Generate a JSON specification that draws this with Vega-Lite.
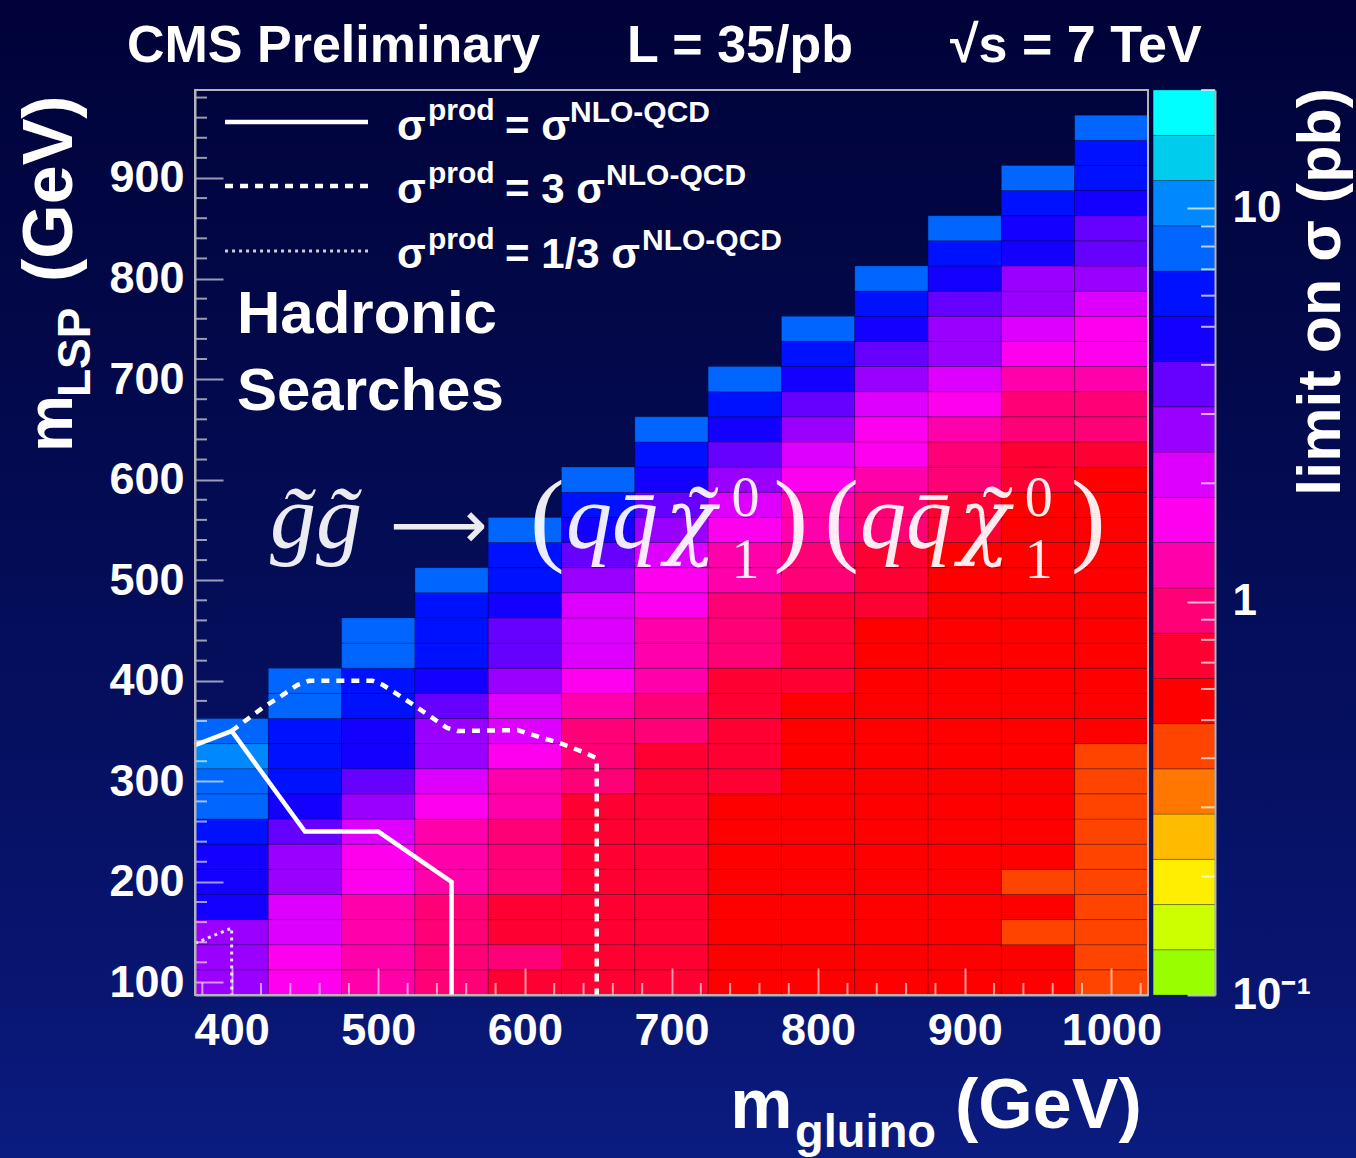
{
  "$schema": "https://vega.github.io/schema/vega-lite/v6.json",
  "autosize": {"type": "none"},
  "width": 953,
  "height": 905,
  "padding": {"left": 195, "top": 90, "right": 208, "bottom": 163},
  "background": "#030a50",
  "config": {"view": {"stroke": null}},
  "datasets": {
    "limits": [
      {"gluino":400,"lsp":100,"limit":2.74},{"gluino":400,"lsp":125,"limit":2.74},{"gluino":400,"lsp":150,"limit":2.74},{"gluino":400,"lsp":175,"limit":4.66},{"gluino":400,"lsp":200,"limit":4.66},{"gluino":400,"lsp":225,"limit":4.66},{"gluino":400,"lsp":250,"limit":6.07},{"gluino":400,"lsp":275,"limit":7.91},{"gluino":400,"lsp":300,"limit":7.91},{"gluino":400,"lsp":325,"limit":10.3},{"gluino":400,"lsp":350,"limit":7.91},
      {"gluino":450,"lsp":100,"limit":1.61},{"gluino":450,"lsp":125,"limit":1.61},{"gluino":450,"lsp":150,"limit":2.1},{"gluino":450,"lsp":175,"limit":2.1},{"gluino":450,"lsp":200,"limit":2.74},{"gluino":450,"lsp":225,"limit":2.74},{"gluino":450,"lsp":250,"limit":3.58},{"gluino":450,"lsp":275,"limit":4.66},{"gluino":450,"lsp":300,"limit":6.07},{"gluino":450,"lsp":325,"limit":6.07},{"gluino":450,"lsp":350,"limit":6.07},{"gluino":450,"lsp":375,"limit":7.91},{"gluino":450,"lsp":400,"limit":7.91},
      {"gluino":500,"lsp":100,"limit":1.24},{"gluino":500,"lsp":125,"limit":1.24},{"gluino":500,"lsp":150,"limit":1.24},{"gluino":500,"lsp":175,"limit":1.24},{"gluino":500,"lsp":200,"limit":1.61},{"gluino":500,"lsp":225,"limit":1.61},{"gluino":500,"lsp":250,"limit":2.1},{"gluino":500,"lsp":275,"limit":2.74},{"gluino":500,"lsp":300,"limit":3.58},{"gluino":500,"lsp":325,"limit":4.66},{"gluino":500,"lsp":350,"limit":4.66},{"gluino":500,"lsp":375,"limit":6.07},{"gluino":500,"lsp":400,"limit":6.07},{"gluino":500,"lsp":425,"limit":7.91},{"gluino":500,"lsp":450,"limit":7.91},
      {"gluino":550,"lsp":100,"limit":0.95},{"gluino":550,"lsp":125,"limit":0.95},{"gluino":550,"lsp":150,"limit":0.95},{"gluino":550,"lsp":175,"limit":0.95},{"gluino":550,"lsp":200,"limit":1.24},{"gluino":550,"lsp":225,"limit":1.24},{"gluino":550,"lsp":250,"limit":1.24},{"gluino":550,"lsp":275,"limit":1.61},{"gluino":550,"lsp":300,"limit":2.1},{"gluino":550,"lsp":325,"limit":2.74},{"gluino":550,"lsp":350,"limit":2.74},{"gluino":550,"lsp":375,"limit":3.58},{"gluino":550,"lsp":400,"limit":4.66},{"gluino":550,"lsp":425,"limit":6.07},{"gluino":550,"lsp":450,"limit":6.07},{"gluino":550,"lsp":475,"limit":6.07},{"gluino":550,"lsp":500,"limit":7.91},
      {"gluino":600,"lsp":100,"limit":0.73},{"gluino":600,"lsp":125,"limit":0.95},{"gluino":600,"lsp":150,"limit":0.73},{"gluino":600,"lsp":175,"limit":0.73},{"gluino":600,"lsp":200,"limit":0.95},{"gluino":600,"lsp":225,"limit":0.95},{"gluino":600,"lsp":250,"limit":0.95},{"gluino":600,"lsp":275,"limit":1.24},{"gluino":600,"lsp":300,"limit":1.24},{"gluino":600,"lsp":325,"limit":1.61},{"gluino":600,"lsp":350,"limit":2.1},{"gluino":600,"lsp":375,"limit":2.1},{"gluino":600,"lsp":400,"limit":2.74},{"gluino":600,"lsp":425,"limit":3.58},{"gluino":600,"lsp":450,"limit":3.58},{"gluino":600,"lsp":475,"limit":4.66},{"gluino":600,"lsp":500,"limit":6.07},{"gluino":600,"lsp":525,"limit":6.07},{"gluino":600,"lsp":550,"limit":7.91},
      {"gluino":650,"lsp":100,"limit":0.73},{"gluino":650,"lsp":125,"limit":0.73},{"gluino":650,"lsp":150,"limit":0.73},{"gluino":650,"lsp":175,"limit":0.73},{"gluino":650,"lsp":200,"limit":0.73},{"gluino":650,"lsp":225,"limit":0.73},{"gluino":650,"lsp":250,"limit":0.73},{"gluino":650,"lsp":275,"limit":0.73},{"gluino":650,"lsp":300,"limit":0.95},{"gluino":650,"lsp":325,"limit":0.95},{"gluino":650,"lsp":350,"limit":0.95},{"gluino":650,"lsp":375,"limit":1.24},{"gluino":650,"lsp":400,"limit":1.61},{"gluino":650,"lsp":425,"limit":2.1},{"gluino":650,"lsp":450,"limit":2.1},{"gluino":650,"lsp":475,"limit":2.1},{"gluino":650,"lsp":500,"limit":2.74},{"gluino":650,"lsp":525,"limit":3.58},{"gluino":650,"lsp":550,"limit":4.66},{"gluino":650,"lsp":575,"limit":6.07},{"gluino":650,"lsp":600,"limit":7.91},
      {"gluino":700,"lsp":100,"limit":0.73},{"gluino":700,"lsp":125,"limit":0.73},{"gluino":700,"lsp":150,"limit":0.73},{"gluino":700,"lsp":175,"limit":0.73},{"gluino":700,"lsp":200,"limit":0.73},{"gluino":700,"lsp":225,"limit":0.73},{"gluino":700,"lsp":250,"limit":0.73},{"gluino":700,"lsp":275,"limit":0.73},{"gluino":700,"lsp":300,"limit":0.73},{"gluino":700,"lsp":325,"limit":0.73},{"gluino":700,"lsp":350,"limit":0.95},{"gluino":700,"lsp":375,"limit":0.95},{"gluino":700,"lsp":400,"limit":1.24},{"gluino":700,"lsp":425,"limit":1.24},{"gluino":700,"lsp":450,"limit":1.24},{"gluino":700,"lsp":475,"limit":1.61},{"gluino":700,"lsp":500,"limit":1.61},{"gluino":700,"lsp":525,"limit":2.1},{"gluino":700,"lsp":550,"limit":2.74},{"gluino":700,"lsp":575,"limit":3.58},{"gluino":700,"lsp":600,"limit":4.66},{"gluino":700,"lsp":625,"limit":6.07},{"gluino":700,"lsp":650,"limit":7.91},
      {"gluino":750,"lsp":100,"limit":0.56},{"gluino":750,"lsp":125,"limit":0.56},{"gluino":750,"lsp":150,"limit":0.56},{"gluino":750,"lsp":175,"limit":0.56},{"gluino":750,"lsp":200,"limit":0.56},{"gluino":750,"lsp":225,"limit":0.56},{"gluino":750,"lsp":250,"limit":0.56},{"gluino":750,"lsp":275,"limit":0.56},{"gluino":750,"lsp":300,"limit":0.73},{"gluino":750,"lsp":325,"limit":0.73},{"gluino":750,"lsp":350,"limit":0.73},{"gluino":750,"lsp":375,"limit":0.73},{"gluino":750,"lsp":400,"limit":0.73},{"gluino":750,"lsp":425,"limit":0.95},{"gluino":750,"lsp":450,"limit":0.95},{"gluino":750,"lsp":475,"limit":0.95},{"gluino":750,"lsp":500,"limit":1.24},{"gluino":750,"lsp":525,"limit":1.24},{"gluino":750,"lsp":550,"limit":1.61},{"gluino":750,"lsp":575,"limit":2.1},{"gluino":750,"lsp":600,"limit":2.74},{"gluino":750,"lsp":625,"limit":3.58},{"gluino":750,"lsp":650,"limit":4.66},{"gluino":750,"lsp":675,"limit":6.07},{"gluino":750,"lsp":700,"limit":7.91},
      {"gluino":800,"lsp":100,"limit":0.56},{"gluino":800,"lsp":125,"limit":0.56},{"gluino":800,"lsp":150,"limit":0.56},{"gluino":800,"lsp":175,"limit":0.56},{"gluino":800,"lsp":200,"limit":0.56},{"gluino":800,"lsp":225,"limit":0.56},{"gluino":800,"lsp":250,"limit":0.56},{"gluino":800,"lsp":275,"limit":0.56},{"gluino":800,"lsp":300,"limit":0.56},{"gluino":800,"lsp":325,"limit":0.56},{"gluino":800,"lsp":350,"limit":0.56},{"gluino":800,"lsp":375,"limit":0.56},{"gluino":800,"lsp":400,"limit":0.73},{"gluino":800,"lsp":425,"limit":0.73},{"gluino":800,"lsp":450,"limit":0.73},{"gluino":800,"lsp":475,"limit":0.73},{"gluino":800,"lsp":500,"limit":0.95},{"gluino":800,"lsp":525,"limit":0.95},{"gluino":800,"lsp":550,"limit":1.24},{"gluino":800,"lsp":575,"limit":1.24},{"gluino":800,"lsp":600,"limit":1.61},{"gluino":800,"lsp":625,"limit":2.1},{"gluino":800,"lsp":650,"limit":2.74},{"gluino":800,"lsp":675,"limit":3.58},{"gluino":800,"lsp":700,"limit":4.66},{"gluino":800,"lsp":725,"limit":6.07},{"gluino":800,"lsp":750,"limit":7.91},
      {"gluino":850,"lsp":100,"limit":0.56},{"gluino":850,"lsp":125,"limit":0.56},{"gluino":850,"lsp":150,"limit":0.56},{"gluino":850,"lsp":175,"limit":0.56},{"gluino":850,"lsp":200,"limit":0.56},{"gluino":850,"lsp":225,"limit":0.56},{"gluino":850,"lsp":250,"limit":0.56},{"gluino":850,"lsp":275,"limit":0.56},{"gluino":850,"lsp":300,"limit":0.56},{"gluino":850,"lsp":325,"limit":0.56},{"gluino":850,"lsp":350,"limit":0.56},{"gluino":850,"lsp":375,"limit":0.56},{"gluino":850,"lsp":400,"limit":0.56},{"gluino":850,"lsp":425,"limit":0.56},{"gluino":850,"lsp":450,"limit":0.56},{"gluino":850,"lsp":475,"limit":0.73},{"gluino":850,"lsp":500,"limit":0.73},{"gluino":850,"lsp":525,"limit":0.73},{"gluino":850,"lsp":550,"limit":0.95},{"gluino":850,"lsp":575,"limit":0.95},{"gluino":850,"lsp":600,"limit":1.24},{"gluino":850,"lsp":625,"limit":1.61},{"gluino":850,"lsp":650,"limit":1.61},{"gluino":850,"lsp":675,"limit":2.1},{"gluino":850,"lsp":700,"limit":2.74},{"gluino":850,"lsp":725,"limit":3.58},{"gluino":850,"lsp":750,"limit":4.66},{"gluino":850,"lsp":775,"limit":6.07},{"gluino":850,"lsp":800,"limit":7.91},
      {"gluino":900,"lsp":100,"limit":0.56},{"gluino":900,"lsp":125,"limit":0.56},{"gluino":900,"lsp":150,"limit":0.56},{"gluino":900,"lsp":175,"limit":0.56},{"gluino":900,"lsp":200,"limit":0.56},{"gluino":900,"lsp":225,"limit":0.56},{"gluino":900,"lsp":250,"limit":0.56},{"gluino":900,"lsp":275,"limit":0.56},{"gluino":900,"lsp":300,"limit":0.56},{"gluino":900,"lsp":325,"limit":0.56},{"gluino":900,"lsp":350,"limit":0.56},{"gluino":900,"lsp":375,"limit":0.56},{"gluino":900,"lsp":400,"limit":0.56},{"gluino":900,"lsp":425,"limit":0.56},{"gluino":900,"lsp":450,"limit":0.56},{"gluino":900,"lsp":475,"limit":0.56},{"gluino":900,"lsp":500,"limit":0.56},{"gluino":900,"lsp":525,"limit":0.56},{"gluino":900,"lsp":550,"limit":0.73},{"gluino":900,"lsp":575,"limit":0.73},{"gluino":900,"lsp":600,"limit":0.95},{"gluino":900,"lsp":625,"limit":0.95},{"gluino":900,"lsp":650,"limit":1.24},{"gluino":900,"lsp":675,"limit":1.61},{"gluino":900,"lsp":700,"limit":2.1},{"gluino":900,"lsp":725,"limit":2.74},{"gluino":900,"lsp":750,"limit":2.74},{"gluino":900,"lsp":775,"limit":3.58},{"gluino":900,"lsp":800,"limit":4.66},{"gluino":900,"lsp":825,"limit":6.07},{"gluino":900,"lsp":850,"limit":7.91},
      {"gluino":950,"lsp":100,"limit":0.56},{"gluino":950,"lsp":125,"limit":0.56},{"gluino":950,"lsp":150,"limit":0.429},{"gluino":950,"lsp":175,"limit":0.56},{"gluino":950,"lsp":200,"limit":0.429},{"gluino":950,"lsp":225,"limit":0.56},{"gluino":950,"lsp":250,"limit":0.56},{"gluino":950,"lsp":275,"limit":0.56},{"gluino":950,"lsp":300,"limit":0.56},{"gluino":950,"lsp":325,"limit":0.56},{"gluino":950,"lsp":350,"limit":0.56},{"gluino":950,"lsp":375,"limit":0.56},{"gluino":950,"lsp":400,"limit":0.56},{"gluino":950,"lsp":425,"limit":0.56},{"gluino":950,"lsp":450,"limit":0.56},{"gluino":950,"lsp":475,"limit":0.56},{"gluino":950,"lsp":500,"limit":0.56},{"gluino":950,"lsp":525,"limit":0.56},{"gluino":950,"lsp":550,"limit":0.56},{"gluino":950,"lsp":575,"limit":0.56},{"gluino":950,"lsp":600,"limit":0.73},{"gluino":950,"lsp":625,"limit":0.73},{"gluino":950,"lsp":650,"limit":0.95},{"gluino":950,"lsp":675,"limit":0.95},{"gluino":950,"lsp":700,"limit":1.24},{"gluino":950,"lsp":725,"limit":1.61},{"gluino":950,"lsp":750,"limit":2.1},{"gluino":950,"lsp":775,"limit":2.74},{"gluino":950,"lsp":800,"limit":2.74},{"gluino":950,"lsp":825,"limit":4.66},{"gluino":950,"lsp":850,"limit":4.66},{"gluino":950,"lsp":875,"limit":6.07},{"gluino":950,"lsp":900,"limit":7.91},
      {"gluino":1000,"lsp":100,"limit":0.429},{"gluino":1000,"lsp":125,"limit":0.429},{"gluino":1000,"lsp":150,"limit":0.429},{"gluino":1000,"lsp":175,"limit":0.429},{"gluino":1000,"lsp":200,"limit":0.429},{"gluino":1000,"lsp":225,"limit":0.429},{"gluino":1000,"lsp":250,"limit":0.429},{"gluino":1000,"lsp":275,"limit":0.429},{"gluino":1000,"lsp":300,"limit":0.429},{"gluino":1000,"lsp":325,"limit":0.429},{"gluino":1000,"lsp":350,"limit":0.56},{"gluino":1000,"lsp":375,"limit":0.56},{"gluino":1000,"lsp":400,"limit":0.56},{"gluino":1000,"lsp":425,"limit":0.56},{"gluino":1000,"lsp":450,"limit":0.56},{"gluino":1000,"lsp":475,"limit":0.56},{"gluino":1000,"lsp":500,"limit":0.56},{"gluino":1000,"lsp":525,"limit":0.56},{"gluino":1000,"lsp":550,"limit":0.56},{"gluino":1000,"lsp":575,"limit":0.56},{"gluino":1000,"lsp":600,"limit":0.56},{"gluino":1000,"lsp":625,"limit":0.73},{"gluino":1000,"lsp":650,"limit":0.95},{"gluino":1000,"lsp":675,"limit":0.95},{"gluino":1000,"lsp":700,"limit":1.24},{"gluino":1000,"lsp":725,"limit":1.61},{"gluino":1000,"lsp":750,"limit":1.61},{"gluino":1000,"lsp":775,"limit":2.1},{"gluino":1000,"lsp":800,"limit":2.74},{"gluino":1000,"lsp":825,"limit":3.58},{"gluino":1000,"lsp":850,"limit":3.58},{"gluino":1000,"lsp":875,"limit":4.66},{"gluino":1000,"lsp":900,"limit":6.07},{"gluino":1000,"lsp":925,"limit":6.07},{"gluino":1000,"lsp":950,"limit":7.91}
    ],
    "contours": [
      {"curve":"x1","i":1,"gluino":375,"lsp":336},{"curve":"x1","i":2,"gluino":400,"lsp":350},{"curve":"x1","i":3,"gluino":450,"lsp":250},{"curve":"x1","i":4,"gluino":500,"lsp":250},{"curve":"x1","i":5,"gluino":550,"lsp":200},{"curve":"x1","i":6,"gluino":550,"lsp":87.5},
      {"curve":"x3","i":1,"gluino":400,"lsp":350},{"curve":"x3","i":2,"gluino":421,"lsp":373},{"curve":"x3","i":3,"gluino":433,"lsp":384},{"curve":"x3","i":4,"gluino":445,"lsp":396},{"curve":"x3","i":5,"gluino":453,"lsp":400},{"curve":"x3","i":6,"gluino":496,"lsp":400},{"curve":"x3","i":7,"gluino":503,"lsp":396},{"curve":"x3","i":8,"gluino":522,"lsp":378},{"curve":"x3","i":9,"gluino":537,"lsp":363},{"curve":"x3","i":10,"gluino":547,"lsp":353},{"curve":"x3","i":11,"gluino":554,"lsp":350},{"curve":"x3","i":12,"gluino":595,"lsp":351},{"curve":"x3","i":13,"gluino":612,"lsp":343},{"curve":"x3","i":14,"gluino":624,"lsp":338},{"curve":"x3","i":15,"gluino":640,"lsp":329},{"curve":"x3","i":16,"gluino":649,"lsp":323},{"curve":"x3","i":17,"gluino":649,"lsp":87.5},
      {"curve":"x13","i":1,"gluino":375,"lsp":139},{"curve":"x13","i":2,"gluino":400,"lsp":154},{"curve":"x13","i":3,"gluino":400,"lsp":87.5}
    ],
    "xMinor": [{"v":380},{"v":420},{"v":440},{"v":460},{"v":480},{"v":520},{"v":540},{"v":560},{"v":580},{"v":620},{"v":640},{"v":660},{"v":680},{"v":720},{"v":740},{"v":760},{"v":780},{"v":820},{"v":840},{"v":860},{"v":880},{"v":920},{"v":940},{"v":960},{"v":980},{"v":1020}],
    "yMinor": [{"v":120},{"v":140},{"v":160},{"v":180},{"v":220},{"v":240},{"v":260},{"v":280},{"v":320},{"v":340},{"v":360},{"v":380},{"v":420},{"v":440},{"v":460},{"v":480},{"v":520},{"v":540},{"v":560},{"v":580},{"v":620},{"v":640},{"v":660},{"v":680},{"v":720},{"v":740},{"v":760},{"v":780},{"v":820},{"v":840},{"v":860},{"v":880},{"v":920},{"v":940},{"v":960},{"v":980}],
    "bands": [
      {"lo":0.1,"hi":0.1303},{"lo":0.1303,"hi":0.1698},{"lo":0.1698,"hi":0.2213},{"lo":0.2213,"hi":0.2884},{"lo":0.2884,"hi":0.3758},{"lo":0.3758,"hi":0.4898},{"lo":0.4898,"hi":0.6383},{"lo":0.6383,"hi":0.8318},{"lo":0.8318,"hi":1.084},{"lo":1.084,"hi":1.414},
      {"lo":1.414,"hi":1.843},{"lo":1.843,"hi":2.402},{"lo":2.402,"hi":3.13},{"lo":3.13,"hi":4.079},{"lo":4.079,"hi":5.316},{"lo":5.316,"hi":6.928},{"lo":6.928,"hi":9.029},{"lo":9.029,"hi":11.77},{"lo":11.77,"hi":15.33},{"lo":15.33,"hi":20}
    ],
    "cbMinor": [{"v":0.2},{"v":0.3},{"v":0.4},{"v":0.5},{"v":0.6},{"v":0.7},{"v":0.8},{"v":0.9},{"v":2},{"v":3},{"v":4},{"v":5},{"v":6},{"v":7},{"v":8},{"v":9},{"v":20}]
  },
  "resolve": {"scale": {"y": "independent"}, "axis": {"y": "independent"}},
  "layer": [
    {
      "layer": [
        {
          "data": {"values": [{}]},
          "mark": {"type": "rect", "fill": {"gradient": "linear", "x1": 0, "y1": 0, "x2": 0, "y2": 1, "stops": [{"offset": 0, "color": "#000238"}, {"offset": 0.3, "color": "#020849"}, {"offset": 0.6, "color": "#050f5e"}, {"offset": 0.85, "color": "#081672"}, {"offset": 1, "color": "#0b1c82"}]}},
          "encoding": {
            "x": {"datum": 230, "type": "quantitative", "scale": {"domain": [375, 1025], "nice": false, "zero": false}},
            "x2": {"datum": 1180},
            "y": {"datum": -90, "type": "quantitative", "scale": {"domain": [87.5, 987.5], "nice": false, "zero": false}},
            "y2": {"datum": 1090}
          }
        },
        {
          "data": {"name": "limits"},
          "mark": {"type": "rect", "width": 73.3, "height": 25.1, "stroke": "#000000", "strokeOpacity": 0.22, "strokeWidth": 1},
          "encoding": {
            "x": {"field": "gluino", "type": "quantitative", "title": null, "scale": {"domain": [375, 1025], "nice": false, "zero": false},
                  "axis": {"title": null, "values": [400, 500, 600, 700, 800, 900, 1000], "format": "d", "grid": false, "zindex": 1,
                           "domainColor": "#b4b4b4", "domainWidth": 2, "tickColor": "#ffffff", "tickOpacity": 0.6, "tickWidth": 2, "tickSize": -27,
                           "labelFont": "Liberation Sans", "labelFontSize": 45, "labelFontWeight": "bold", "labelColor": "#ffffff",
                           "labelPadding": 40, "labelFlush": false, "labelOverlap": false}},
            "y": {"field": "lsp", "type": "quantitative", "title": null, "scale": {"domain": [87.5, 987.5], "nice": false, "zero": false},
                  "axis": {"title": null, "values": [100, 200, 300, 400, 500, 600, 700, 800, 900], "format": "d", "grid": false, "zindex": 1,
                           "domainColor": "#b4b4b4", "domainWidth": 2, "tickColor": "#ffffff", "tickOpacity": 0.6, "tickWidth": 2, "tickSize": -28,
                           "labelFont": "Liberation Sans", "labelFontSize": 45, "labelFontWeight": "bold", "labelColor": "#ffffff",
                           "labelPadding": 39, "labelBaseline": "middle", "labelFlush": false, "labelOverlap": false}},
            "color": {"field": "limit", "type": "quantitative", "legend": null,
                      "scale": {"type": "threshold",
                                "domain": [0.1303, 0.1698, 0.2213, 0.2884, 0.3758, 0.4898, 0.6383, 0.8318, 1.084, 1.414, 1.843, 2.402, 3.13, 4.079, 5.316, 6.928, 9.029, 11.77, 15.33],
                                "range": ["#99ff00", "#ccff00", "#ffee00", "#ffbb00", "#ff7700", "#ff4400", "#ff0000", "#ff0033", "#ff0077", "#ff00aa", "#ff00ee", "#dd00ff", "#9900ff", "#6600ff", "#1400ff", "#0011ff", "#0066ff", "#0088ff", "#00ccee", "#00ffff"]}}
          }
        },
        {
          "data": {"values": [{}]},
          "mark": {"type": "rect", "fill": null, "stroke": "#b4b4b4", "strokeWidth": 2},
          "encoding": {
            "x": {"datum": 375, "type": "quantitative", "scale": {"domain": [375, 1025], "nice": false, "zero": false}},
            "x2": {"datum": 1025},
            "y": {"datum": 87.5, "type": "quantitative", "scale": {"domain": [87.5, 987.5], "nice": false, "zero": false}},
            "y2": {"datum": 987.5}
          }
        },
        {
          "data": {"name": "xMinor"},
          "mark": {"type": "rule", "color": "#ffffff", "opacity": 0.6, "strokeWidth": 2},
          "encoding": {
            "x": {"field": "v", "type": "quantitative", "title": null, "scale": {"domain": [375, 1025], "nice": false, "zero": false}},
            "y": {"datum": 87.5, "type": "quantitative", "scale": {"domain": [87.5, 987.5], "nice": false, "zero": false}},
            "y2": {"datum": 99.4}
          }
        },
        {
          "data": {"name": "yMinor"},
          "mark": {"type": "rule", "color": "#ffffff", "opacity": 0.6, "strokeWidth": 2},
          "encoding": {
            "y": {"field": "v", "type": "quantitative", "title": null, "scale": {"domain": [87.5, 987.5], "nice": false, "zero": false}},
            "x": {"datum": 375, "type": "quantitative", "scale": {"domain": [375, 1025], "nice": false, "zero": false}},
            "x2": {"datum": 383.2}
          }
        },
        {
          "data": {"name": "contours"},
          "transform": [{"filter": "datum.curve === 'x1'"}],
          "mark": {"type": "line", "color": "#ffffff", "strokeWidth": 4.5},
          "encoding": {
            "x": {"field": "gluino", "type": "quantitative", "title": null, "scale": {"domain": [375, 1025], "nice": false, "zero": false}},
            "y": {"field": "lsp", "type": "quantitative", "title": null, "scale": {"domain": [87.5, 987.5], "nice": false, "zero": false}},
            "order": {"field": "i", "type": "quantitative"}
          }
        },
        {
          "data": {"name": "contours"},
          "transform": [{"filter": "datum.curve === 'x3'"}],
          "mark": {"type": "line", "color": "#ffffff", "strokeWidth": 4.5, "strokeDash": [8, 7]},
          "encoding": {
            "x": {"field": "gluino", "type": "quantitative", "title": null, "scale": {"domain": [375, 1025], "nice": false, "zero": false}},
            "y": {"field": "lsp", "type": "quantitative", "title": null, "scale": {"domain": [87.5, 987.5], "nice": false, "zero": false}},
            "order": {"field": "i", "type": "quantitative"}
          }
        },
        {
          "data": {"name": "contours"},
          "transform": [{"filter": "datum.curve === 'x13'"}],
          "mark": {"type": "line", "color": "#e6e6e6", "strokeWidth": 3, "strokeDash": [3, 4]},
          "encoding": {
            "x": {"field": "gluino", "type": "quantitative", "title": null, "scale": {"domain": [375, 1025], "nice": false, "zero": false}},
            "y": {"field": "lsp", "type": "quantitative", "title": null, "scale": {"domain": [87.5, 987.5], "nice": false, "zero": false}},
            "order": {"field": "i", "type": "quantitative"}
          }
        },
        {
          "data": {"values": [{}]},
          "mark": {"type": "rule", "color": "#ffffff", "strokeWidth": 4.5},
          "encoding": {
            "x": {"datum": 395.5, "type": "quantitative", "scale": {"domain": [375, 1025], "nice": false, "zero": false}},
            "x2": {"datum": 493},
            "y": {"datum": 955.6, "type": "quantitative", "scale": {"domain": [87.5, 987.5], "nice": false, "zero": false}}
          }
        },
        {
          "data": {"values": [{}]},
          "mark": {"type": "rule", "color": "#ffffff", "strokeWidth": 4.5, "strokeDash": [8, 7]},
          "encoding": {
            "x": {"datum": 395.5, "type": "quantitative", "scale": {"domain": [375, 1025], "nice": false, "zero": false}},
            "x2": {"datum": 493},
            "y": {"datum": 892, "type": "quantitative", "scale": {"domain": [87.5, 987.5], "nice": false, "zero": false}}
          }
        },
        {
          "data": {"values": [{}]},
          "mark": {"type": "rule", "color": "#cfcfcf", "strokeWidth": 3, "strokeDash": [3, 4]},
          "encoding": {
            "x": {"datum": 395.5, "type": "quantitative", "scale": {"domain": [375, 1025], "nice": false, "zero": false}},
            "x2": {"datum": 493},
            "y": {"datum": 827.4, "type": "quantitative", "scale": {"domain": [87.5, 987.5], "nice": false, "zero": false}}
          }
        },
        {"data": {"values": [{}]}, "mark": {"type": "text", "text": "σ", "font": "Liberation Sans", "fontSize": 42, "fontWeight": "bold", "color": "#ffffff", "align": "left", "baseline": "alphabetic"},
         "encoding": {"x": {"datum": 512.8, "type": "quantitative", "scale": {"domain": [375, 1025], "nice": false, "zero": false}}, "y": {"datum": 937.8, "type": "quantitative", "scale": {"domain": [87.5, 987.5], "nice": false, "zero": false}}}},
        {"data": {"values": [{}]}, "mark": {"type": "text", "text": "prod", "font": "Liberation Sans", "fontSize": 30, "fontWeight": "bold", "color": "#ffffff", "align": "left", "baseline": "alphabetic"},
         "encoding": {"x": {"datum": 533.9, "type": "quantitative", "scale": {"domain": [375, 1025], "nice": false, "zero": false}}, "y": {"datum": 957.6, "type": "quantitative", "scale": {"domain": [87.5, 987.5], "nice": false, "zero": false}}}},
        {"data": {"values": [{}]}, "mark": {"type": "text", "text": "= σ", "font": "Liberation Sans", "fontSize": 42, "fontWeight": "bold", "color": "#ffffff", "align": "left", "baseline": "alphabetic"},
         "encoding": {"x": {"datum": 586.5, "type": "quantitative", "scale": {"domain": [375, 1025], "nice": false, "zero": false}}, "y": {"datum": 937.8, "type": "quantitative", "scale": {"domain": [87.5, 987.5], "nice": false, "zero": false}}}},
        {"data": {"values": [{}]}, "mark": {"type": "text", "text": "NLO-QCD", "font": "Liberation Sans", "fontSize": 30, "fontWeight": "bold", "color": "#ffffff", "align": "left", "baseline": "alphabetic"},
         "encoding": {"x": {"datum": 630.8, "type": "quantitative", "scale": {"domain": [375, 1025], "nice": false, "zero": false}}, "y": {"datum": 955.6, "type": "quantitative", "scale": {"domain": [87.5, 987.5], "nice": false, "zero": false}}}},
        {"data": {"values": [{}]}, "mark": {"type": "text", "text": "σ", "font": "Liberation Sans", "fontSize": 42, "fontWeight": "bold", "color": "#ffffff", "align": "left", "baseline": "alphabetic"},
         "encoding": {"x": {"datum": 512.8, "type": "quantitative", "scale": {"domain": [375, 1025], "nice": false, "zero": false}}, "y": {"datum": 875.1, "type": "quantitative", "scale": {"domain": [87.5, 987.5], "nice": false, "zero": false}}}},
        {"data": {"values": [{}]}, "mark": {"type": "text", "text": "prod", "font": "Liberation Sans", "fontSize": 30, "fontWeight": "bold", "color": "#ffffff", "align": "left", "baseline": "alphabetic"},
         "encoding": {"x": {"datum": 533.9, "type": "quantitative", "scale": {"domain": [375, 1025], "nice": false, "zero": false}}, "y": {"datum": 895.0, "type": "quantitative", "scale": {"domain": [87.5, 987.5], "nice": false, "zero": false}}}},
        {"data": {"values": [{}]}, "mark": {"type": "text", "text": "= 3 σ", "font": "Liberation Sans", "fontSize": 42, "fontWeight": "bold", "color": "#ffffff", "align": "left", "baseline": "alphabetic"},
         "encoding": {"x": {"datum": 586.5, "type": "quantitative", "scale": {"domain": [375, 1025], "nice": false, "zero": false}}, "y": {"datum": 875.1, "type": "quantitative", "scale": {"domain": [87.5, 987.5], "nice": false, "zero": false}}}},
        {"data": {"values": [{}]}, "mark": {"type": "text", "text": "NLO-QCD", "font": "Liberation Sans", "fontSize": 30, "fontWeight": "bold", "color": "#ffffff", "align": "left", "baseline": "alphabetic"},
         "encoding": {"x": {"datum": 655.4, "type": "quantitative", "scale": {"domain": [375, 1025], "nice": false, "zero": false}}, "y": {"datum": 893.0, "type": "quantitative", "scale": {"domain": [87.5, 987.5], "nice": false, "zero": false}}}},
        {"data": {"values": [{}]}, "mark": {"type": "text", "text": "σ", "font": "Liberation Sans", "fontSize": 42, "fontWeight": "bold", "color": "#ffffff", "align": "left", "baseline": "alphabetic"},
         "encoding": {"x": {"datum": 512.8, "type": "quantitative", "scale": {"domain": [375, 1025], "nice": false, "zero": false}}, "y": {"datum": 810.5, "type": "quantitative", "scale": {"domain": [87.5, 987.5], "nice": false, "zero": false}}}},
        {"data": {"values": [{}]}, "mark": {"type": "text", "text": "prod", "font": "Liberation Sans", "fontSize": 30, "fontWeight": "bold", "color": "#ffffff", "align": "left", "baseline": "alphabetic"},
         "encoding": {"x": {"datum": 533.9, "type": "quantitative", "scale": {"domain": [375, 1025], "nice": false, "zero": false}}, "y": {"datum": 829.4, "type": "quantitative", "scale": {"domain": [87.5, 987.5], "nice": false, "zero": false}}}},
        {"data": {"values": [{}]}, "mark": {"type": "text", "text": "= 1/3 σ", "font": "Liberation Sans", "fontSize": 42, "fontWeight": "bold", "color": "#ffffff", "align": "left", "baseline": "alphabetic"},
         "encoding": {"x": {"datum": 586.5, "type": "quantitative", "scale": {"domain": [375, 1025], "nice": false, "zero": false}}, "y": {"datum": 810.5, "type": "quantitative", "scale": {"domain": [87.5, 987.5], "nice": false, "zero": false}}}},
        {"data": {"values": [{}]}, "mark": {"type": "text", "text": "NLO-QCD", "font": "Liberation Sans", "fontSize": 30, "fontWeight": "bold", "color": "#ffffff", "align": "left", "baseline": "alphabetic"},
         "encoding": {"x": {"datum": 679.9, "type": "quantitative", "scale": {"domain": [375, 1025], "nice": false, "zero": false}}, "y": {"datum": 828.4, "type": "quantitative", "scale": {"domain": [87.5, 987.5], "nice": false, "zero": false}}}},
        {"data": {"values": [{}]}, "mark": {"type": "text", "text": "Hadronic", "font": "Liberation Sans", "fontSize": 60, "fontWeight": "bold", "color": "#ffffff", "align": "left", "baseline": "alphabetic"},
         "encoding": {"x": {"datum": 403.6, "type": "quantitative", "scale": {"domain": [375, 1025], "nice": false, "zero": false}}, "y": {"datum": 745.8, "type": "quantitative", "scale": {"domain": [87.5, 987.5], "nice": false, "zero": false}}}},
        {"data": {"values": [{}]}, "mark": {"type": "text", "text": "Searches", "font": "Liberation Sans", "fontSize": 60, "fontWeight": "bold", "color": "#ffffff", "align": "left", "baseline": "alphabetic"},
         "encoding": {"x": {"datum": 403.6, "type": "quantitative", "scale": {"domain": [375, 1025], "nice": false, "zero": false}}, "y": {"datum": 669.2, "type": "quantitative", "scale": {"domain": [87.5, 987.5], "nice": false, "zero": false}}}},
        {"data": {"values": [{}]}, "mark": {"type": "text", "text": "g\u0303g\u0303", "font": "Liberation Serif", "fontSize": 92, "fontStyle": "italic", "color": "#ffffff", "opacity": 0.92, "align": "left", "baseline": "alphabetic"},
         "encoding": {"x": {"datum": 426.2, "type": "quantitative", "scale": {"domain": [375, 1025], "nice": false, "zero": false}}, "y": {"datum": 532.0, "type": "quantitative", "scale": {"domain": [87.5, 987.5], "nice": false, "zero": false}}}},
        {"data": {"values": [{}]}, "mark": {"type": "text", "text": "\u27f6", "font": "DejaVu Sans", "fontSize": 68, "color": "#ffffff", "opacity": 0.92, "align": "left", "baseline": "alphabetic"},
         "encoding": {"x": {"datum": 508.0, "type": "quantitative", "scale": {"domain": [375, 1025], "nice": false, "zero": false}}, "y": {"datum": 532.0, "type": "quantitative", "scale": {"domain": [87.5, 987.5], "nice": false, "zero": false}}}},
        {"data": {"values": [{}]}, "mark": {"type": "text", "text": "(", "font": "Liberation Serif", "fontSize": 104, "color": "#ffffff", "opacity": 0.92, "align": "left", "baseline": "alphabetic"},
         "encoding": {"x": {"datum": 603.5, "type": "quantitative", "scale": {"domain": [375, 1025], "nice": false, "zero": false}}, "y": {"datum": 528.0, "type": "quantitative", "scale": {"domain": [87.5, 987.5], "nice": false, "zero": false}}}},
        {"data": {"values": [{}]}, "mark": {"type": "text", "text": "qq\u0304", "font": "Liberation Serif", "fontSize": 92, "fontStyle": "italic", "color": "#ffffff", "opacity": 0.92, "align": "left", "baseline": "alphabetic"},
         "encoding": {"x": {"datum": 628.1, "type": "quantitative", "scale": {"domain": [375, 1025], "nice": false, "zero": false}}, "y": {"datum": 532.0, "type": "quantitative", "scale": {"domain": [87.5, 987.5], "nice": false, "zero": false}}}},
        {"data": {"values": [{}]}, "mark": {"type": "text", "text": "\u03c7", "font": "DejaVu Serif", "fontSize": 84, "fontStyle": "italic", "color": "#ffffff", "opacity": 0.92, "align": "left", "baseline": "alphabetic"},
         "encoding": {"x": {"datum": 695.6, "type": "quantitative", "scale": {"domain": [375, 1025], "nice": false, "zero": false}}, "y": {"datum": 532.0, "type": "quantitative", "scale": {"domain": [87.5, 987.5], "nice": false, "zero": false}}}},
        {"data": {"values": [{}]}, "mark": {"type": "text", "text": "\u02dc", "font": "Liberation Serif", "fontSize": 92, "color": "#ffffff", "opacity": 0.92, "align": "left", "baseline": "alphabetic"},
         "encoding": {"x": {"datum": 711.5, "type": "quantitative", "scale": {"domain": [375, 1025], "nice": false, "zero": false}}, "y": {"datum": 532.0, "type": "quantitative", "scale": {"domain": [87.5, 987.5], "nice": false, "zero": false}}}},
        {"data": {"values": [{}]}, "mark": {"type": "text", "text": "0", "font": "Liberation Serif", "fontSize": 56, "color": "#ffffff", "opacity": 0.92, "align": "left", "baseline": "alphabetic"},
         "encoding": {"x": {"datum": 741.0, "type": "quantitative", "scale": {"domain": [375, 1025], "nice": false, "zero": false}}, "y": {"datum": 563.9, "type": "quantitative", "scale": {"domain": [87.5, 987.5], "nice": false, "zero": false}}}},
        {"data": {"values": [{}]}, "mark": {"type": "text", "text": "1", "font": "Liberation Serif", "fontSize": 56, "color": "#ffffff", "opacity": 0.92, "align": "left", "baseline": "alphabetic"},
         "encoding": {"x": {"datum": 741.0, "type": "quantitative", "scale": {"domain": [375, 1025], "nice": false, "zero": false}}, "y": {"datum": 502.2, "type": "quantitative", "scale": {"domain": [87.5, 987.5], "nice": false, "zero": false}}}},
        {"data": {"values": [{}]}, "mark": {"type": "text", "text": ")", "font": "Liberation Serif", "fontSize": 104, "color": "#ffffff", "opacity": 0.92, "align": "left", "baseline": "alphabetic"},
         "encoding": {"x": {"datum": 769.6, "type": "quantitative", "scale": {"domain": [375, 1025], "nice": false, "zero": false}}, "y": {"datum": 528.0, "type": "quantitative", "scale": {"domain": [87.5, 987.5], "nice": false, "zero": false}}}},
        {"data": {"values": [{}]}, "mark": {"type": "text", "text": "(", "font": "Liberation Serif", "fontSize": 104, "color": "#ffffff", "opacity": 0.92, "align": "left", "baseline": "alphabetic"},
         "encoding": {"x": {"datum": 804.1, "type": "quantitative", "scale": {"domain": [375, 1025], "nice": false, "zero": false}}, "y": {"datum": 528.0, "type": "quantitative", "scale": {"domain": [87.5, 987.5], "nice": false, "zero": false}}}},
        {"data": {"values": [{}]}, "mark": {"type": "text", "text": "qq\u0304", "font": "Liberation Serif", "fontSize": 92, "fontStyle": "italic", "color": "#ffffff", "opacity": 0.92, "align": "left", "baseline": "alphabetic"},
         "encoding": {"x": {"datum": 828.6, "type": "quantitative", "scale": {"domain": [375, 1025], "nice": false, "zero": false}}, "y": {"datum": 532.0, "type": "quantitative", "scale": {"domain": [87.5, 987.5], "nice": false, "zero": false}}}},
        {"data": {"values": [{}]}, "mark": {"type": "text", "text": "\u03c7", "font": "DejaVu Serif", "fontSize": 84, "fontStyle": "italic", "color": "#ffffff", "opacity": 0.92, "align": "left", "baseline": "alphabetic"},
         "encoding": {"x": {"datum": 896.0, "type": "quantitative", "scale": {"domain": [375, 1025], "nice": false, "zero": false}}, "y": {"datum": 532.0, "type": "quantitative", "scale": {"domain": [87.5, 987.5], "nice": false, "zero": false}}}},
        {"data": {"values": [{}]}, "mark": {"type": "text", "text": "\u02dc", "font": "Liberation Serif", "fontSize": 92, "color": "#ffffff", "opacity": 0.92, "align": "left", "baseline": "alphabetic"},
         "encoding": {"x": {"datum": 911.9, "type": "quantitative", "scale": {"domain": [375, 1025], "nice": false, "zero": false}}, "y": {"datum": 532.0, "type": "quantitative", "scale": {"domain": [87.5, 987.5], "nice": false, "zero": false}}}},
        {"data": {"values": [{}]}, "mark": {"type": "text", "text": "0", "font": "Liberation Serif", "fontSize": 56, "color": "#ffffff", "opacity": 0.92, "align": "left", "baseline": "alphabetic"},
         "encoding": {"x": {"datum": 941.0, "type": "quantitative", "scale": {"domain": [375, 1025], "nice": false, "zero": false}}, "y": {"datum": 563.9, "type": "quantitative", "scale": {"domain": [87.5, 987.5], "nice": false, "zero": false}}}},
        {"data": {"values": [{}]}, "mark": {"type": "text", "text": "1", "font": "Liberation Serif", "fontSize": 56, "color": "#ffffff", "opacity": 0.92, "align": "left", "baseline": "alphabetic"},
         "encoding": {"x": {"datum": 941.0, "type": "quantitative", "scale": {"domain": [375, 1025], "nice": false, "zero": false}}, "y": {"datum": 502.2, "type": "quantitative", "scale": {"domain": [87.5, 987.5], "nice": false, "zero": false}}}},
        {"data": {"values": [{}]}, "mark": {"type": "text", "text": ")", "font": "Liberation Serif", "fontSize": 104, "color": "#ffffff", "opacity": 0.92, "align": "left", "baseline": "alphabetic"},
         "encoding": {"x": {"datum": 972.5, "type": "quantitative", "scale": {"domain": [375, 1025], "nice": false, "zero": false}}, "y": {"datum": 528.0, "type": "quantitative", "scale": {"domain": [87.5, 987.5], "nice": false, "zero": false}}}},
        {"data": {"values": [{}]}, "mark": {"type": "text", "text": "CMS Preliminary", "font": "Liberation Sans", "fontSize": 52, "fontWeight": "bold", "color": "#ffffff", "align": "left", "baseline": "alphabetic"},
         "encoding": {"x": {"datum": 328.6, "type": "quantitative", "scale": {"domain": [375, 1025], "nice": false, "zero": false}}, "y": {"datum": 1015.3, "type": "quantitative", "scale": {"domain": [87.5, 987.5], "nice": false, "zero": false}}}},
        {"data": {"values": [{}]}, "mark": {"type": "text", "text": "L = 35/pb", "font": "Liberation Sans", "fontSize": 52, "fontWeight": "bold", "color": "#ffffff", "align": "left", "baseline": "alphabetic"},
         "encoding": {"x": {"datum": 669.7, "type": "quantitative", "scale": {"domain": [375, 1025], "nice": false, "zero": false}}, "y": {"datum": 1015.3, "type": "quantitative", "scale": {"domain": [87.5, 987.5], "nice": false, "zero": false}}}},
        {"data": {"values": [{}]}, "mark": {"type": "text", "text": "√s = 7 TeV", "font": "Liberation Sans", "fontSize": 52, "fontWeight": "bold", "color": "#ffffff", "align": "left", "baseline": "alphabetic"},
         "encoding": {"x": {"datum": 890.0, "type": "quantitative", "scale": {"domain": [375, 1025], "nice": false, "zero": false}}, "y": {"datum": 1015.3, "type": "quantitative", "scale": {"domain": [87.5, 987.5], "nice": false, "zero": false}}}},
        {"data": {"values": [{}]}, "mark": {"type": "text", "text": "m", "font": "Liberation Sans", "fontSize": 70, "fontWeight": "bold", "color": "#ffffff", "align": "left", "baseline": "alphabetic"},
         "encoding": {"x": {"datum": 740.0, "type": "quantitative", "scale": {"domain": [375, 1025], "nice": false, "zero": false}}, "y": {"datum": -44.8, "type": "quantitative", "scale": {"domain": [87.5, 987.5], "nice": false, "zero": false}}}},
        {"data": {"values": [{}]}, "mark": {"type": "text", "text": "gluino", "font": "Liberation Sans", "fontSize": 47, "fontWeight": "bold", "color": "#ffffff", "align": "left", "baseline": "alphabetic"},
         "encoding": {"x": {"datum": 784.3, "type": "quantitative", "scale": {"domain": [375, 1025], "nice": false, "zero": false}}, "y": {"datum": -63.6, "type": "quantitative", "scale": {"domain": [87.5, 987.5], "nice": false, "zero": false}}}},
        {"data": {"values": [{}]}, "mark": {"type": "text", "text": "(GeV)", "font": "Liberation Sans", "fontSize": 70, "fontWeight": "bold", "color": "#ffffff", "align": "left", "baseline": "alphabetic"},
         "encoding": {"x": {"datum": 893.4, "type": "quantitative", "scale": {"domain": [375, 1025], "nice": false, "zero": false}}, "y": {"datum": -44.8, "type": "quantitative", "scale": {"domain": [87.5, 987.5], "nice": false, "zero": false}}}},
        {"data": {"values": [{}]}, "mark": {"type": "text", "text": "m", "font": "Liberation Sans", "fontSize": 64, "fontWeight": "bold", "color": "#ffffff", "align": "left", "baseline": "alphabetic", "angle": 270},
         "encoding": {"x": {"datum": 291.1, "type": "quantitative", "scale": {"domain": [375, 1025], "nice": false, "zero": false}}, "y": {"datum": 627.5, "type": "quantitative", "scale": {"domain": [87.5, 987.5], "nice": false, "zero": false}}}},
        {"data": {"values": [{}]}, "mark": {"type": "text", "text": "LSP", "font": "Liberation Sans", "fontSize": 46, "fontWeight": "bold", "color": "#ffffff", "align": "left", "baseline": "alphabetic", "angle": 270},
         "encoding": {"x": {"datum": 303.4, "type": "quantitative", "scale": {"domain": [375, 1025], "nice": false, "zero": false}}, "y": {"datum": 682.2, "type": "quantitative", "scale": {"domain": [87.5, 987.5], "nice": false, "zero": false}}}},
        {"data": {"values": [{}]}, "mark": {"type": "text", "text": "(GeV)", "font": "Liberation Sans", "fontSize": 70, "fontWeight": "bold", "color": "#ffffff", "align": "left", "baseline": "alphabetic", "angle": 270},
         "encoding": {"x": {"datum": 291.1, "type": "quantitative", "scale": {"domain": [375, 1025], "nice": false, "zero": false}}, "y": {"datum": 796.5, "type": "quantitative", "scale": {"domain": [87.5, 987.5], "nice": false, "zero": false}}}},
        {"data": {"values": [{}]}, "mark": {"type": "text", "text": "limit on σ (pb)", "font": "Liberation Sans", "fontSize": 61, "fontWeight": "bold", "color": "#ffffff", "align": "right", "baseline": "alphabetic", "angle": 270},
         "encoding": {"x": {"datum": 1156.0, "type": "quantitative", "scale": {"domain": [375, 1025], "nice": false, "zero": false}}, "y": {"datum": 989.5, "type": "quantitative", "scale": {"domain": [87.5, 987.5], "nice": false, "zero": false}}}}
      ]
    },
    {
      "layer": [
        {
          "data": {"name": "bands"},
          "mark": {"type": "rect", "stroke": "#000000", "strokeOpacity": 0.25, "strokeWidth": 1},
          "encoding": {
            "x": {"datum": 1028.5, "type": "quantitative", "scale": {"domain": [375, 1025], "nice": false, "zero": false}},
            "x2": {"datum": 1070.8},
            "y": {"field": "lo", "type": "quantitative", "title": null, "scale": {"type": "log", "domain": [0.1, 20], "nice": false, "zero": false},
                  "axis": {"orient": "right", "offset": 67, "title": null, "values": [0.1, 1, 10], "grid": false, "zindex": 1,
                           "domainColor": "#b4b4b4", "domainWidth": 2, "tickColor": "#ffffff", "tickOpacity": 0.7, "tickWidth": 2, "tickSize": -28,
                           "labelExpr": "datum.value >= 9 ? '10' : datum.value >= 0.9 ? '1' : '10⁻¹'",
                           "labelFont": "Liberation Sans", "labelFontSize": 44, "labelFontWeight": "bold", "labelColor": "#ffffff",
                           "labelPadding": 45, "labelBaseline": "middle", "labelAlign": "left", "labelFlush": false, "labelOverlap": false}},
            "y2": {"field": "hi"},
            "color": {"field": "lo", "type": "quantitative", "legend": null,
                      "scale": {"type": "threshold",
                                "domain": [0.1303, 0.1698, 0.2213, 0.2884, 0.3758, 0.4898, 0.6383, 0.8318, 1.084, 1.414, 1.843, 2.402, 3.13, 4.079, 5.316, 6.928, 9.029, 11.77, 15.33],
                                "range": ["#99ff00", "#ccff00", "#ffee00", "#ffbb00", "#ff7700", "#ff4400", "#ff0000", "#ff0033", "#ff0077", "#ff00aa", "#ff00ee", "#dd00ff", "#9900ff", "#6600ff", "#1400ff", "#0011ff", "#0066ff", "#0088ff", "#00ccee", "#00ffff"]}}
          }
        },
        {
          "data": {"name": "cbMinor"},
          "mark": {"type": "rule", "color": "#ffffff", "opacity": 0.7, "strokeWidth": 2},
          "encoding": {
            "x": {"datum": 1061.2, "type": "quantitative", "scale": {"domain": [375, 1025], "nice": false, "zero": false}},
            "x2": {"datum": 1070.8},
            "y": {"field": "v", "type": "quantitative", "title": null, "scale": {"type": "log", "domain": [0.1, 20], "nice": false, "zero": false}}
          }
        }
      ]
    }
  ]
}
